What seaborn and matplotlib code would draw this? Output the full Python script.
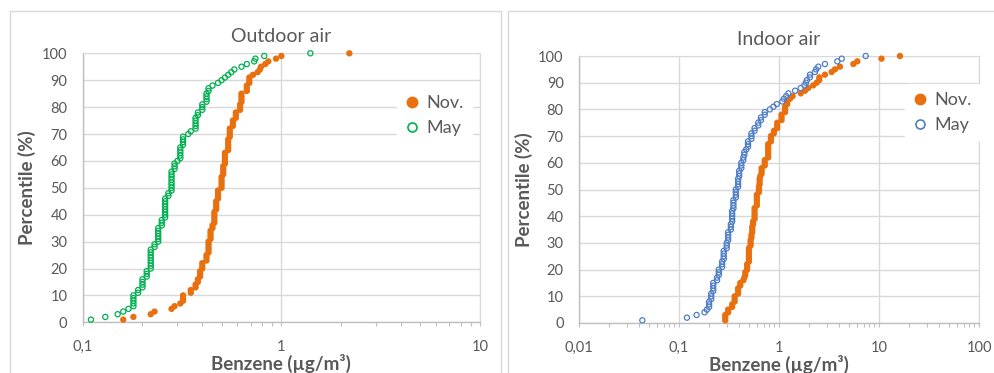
import numpy as np
import pandas as pd
import matplotlib
matplotlib.use("Agg")
import matplotlib.pyplot as plt
from matplotlib.ticker import FixedLocator, FixedFormatter, LogLocator, NullFormatter
from matplotlib.lines import Line2D
from matplotlib.patches import Rectangle
import seaborn as sns

# Benzene concentrations (µg/m³), one value per sample
outdoor_nov = [
    0.16, 0.18, 0.22, 0.23, 0.28, 0.29, 0.31, 0.32, 0.32, 0.32,
    0.35, 0.35, 0.37, 0.37, 0.38, 0.38, 0.39, 0.39, 0.39, 0.40,
    0.40, 0.40, 0.42, 0.42, 0.42, 0.43, 0.43, 0.43, 0.43, 0.43,
    0.44, 0.44, 0.44, 0.44, 0.45, 0.45, 0.46, 0.46, 0.46, 0.46,
    0.46, 0.47, 0.47, 0.47, 0.47, 0.48, 0.48, 0.48, 0.48, 0.50,
    0.50, 0.50, 0.50, 0.50, 0.51, 0.51, 0.51, 0.51, 0.52, 0.52,
    0.52, 0.52, 0.52, 0.54, 0.54, 0.54, 0.54, 0.54, 0.55, 0.55,
    0.55, 0.55, 0.57, 0.57, 0.57, 0.59, 0.59, 0.59, 0.62, 0.62,
    0.62, 0.63, 0.63, 0.63, 0.63, 0.67, 0.67, 0.67, 0.69, 0.69,
    0.69, 0.72, 0.76, 0.78, 0.79, 0.83, 0.86, 0.94, 1.00, 2.20,
]
outdoor_may = [
    0.11, 0.13, 0.15, 0.16, 0.17, 0.18, 0.18, 0.18, 0.18, 0.18,
    0.19, 0.19, 0.20, 0.20, 0.20, 0.20, 0.21, 0.21, 0.21, 0.22,
    0.22, 0.22, 0.22, 0.22, 0.22, 0.22, 0.22, 0.23, 0.23, 0.24,
    0.24, 0.24, 0.24, 0.24, 0.24, 0.25, 0.25, 0.25, 0.26, 0.26,
    0.26, 0.26, 0.26, 0.26, 0.26, 0.26, 0.27, 0.27, 0.28, 0.28,
    0.28, 0.28, 0.28, 0.28, 0.28, 0.28, 0.29, 0.29, 0.29, 0.30,
    0.31, 0.31, 0.31, 0.31, 0.31, 0.32, 0.32, 0.32, 0.32, 0.34,
    0.35, 0.37, 0.37, 0.37, 0.37, 0.37, 0.38, 0.38, 0.40, 0.40,
    0.40, 0.42, 0.42, 0.42, 0.42, 0.43, 0.43, 0.45, 0.48, 0.50,
    0.52, 0.54, 0.56, 0.58, 0.63, 0.67, 0.73, 0.74, 0.82, 1.40,
]
indoor_nov = [
    0.29, 0.29, 0.29, 0.31, 0.31, 0.34, 0.34, 0.36, 0.36, 0.36,
    0.39, 0.39, 0.39, 0.41, 0.41, 0.44, 0.45, 0.46, 0.46, 0.48,
    0.48, 0.48, 0.50, 0.50, 0.50, 0.50, 0.50, 0.50, 0.52, 0.52,
    0.52, 0.53, 0.53, 0.54, 0.54, 0.54, 0.55, 0.55, 0.57, 0.57,
    0.57, 0.57, 0.57, 0.60, 0.60, 0.60, 0.60, 0.60, 0.63, 0.63,
    0.63, 0.64, 0.64, 0.64, 0.65, 0.67, 0.67, 0.67, 0.72, 0.72,
    0.72, 0.78, 0.78, 0.78, 0.78, 0.78, 0.78, 0.83, 0.83, 0.83,
    0.89, 0.89, 0.96, 0.96, 0.96, 1.06, 1.06, 1.06, 1.15, 1.15,
    1.15, 1.21, 1.21, 1.29, 1.37, 1.65, 1.82, 1.96, 2.20, 2.38,
    2.53, 2.53, 2.88, 3.36, 3.63, 4.07, 5.54, 6.07, 10.6, 16.2,
]
indoor_may = [
    0.043, 0.12, 0.15, 0.18, 0.19, 0.20, 0.20, 0.20, 0.21, 0.21,
    0.21, 0.22, 0.22, 0.22, 0.22, 0.24, 0.24, 0.25, 0.25, 0.25,
    0.27, 0.27, 0.27, 0.28, 0.28, 0.28, 0.28, 0.30, 0.30, 0.30,
    0.31, 0.31, 0.31, 0.31, 0.33, 0.33, 0.33, 0.34, 0.34, 0.34,
    0.34, 0.34, 0.35, 0.35, 0.35, 0.35, 0.37, 0.37, 0.37, 0.37,
    0.39, 0.39, 0.39, 0.39, 0.40, 0.40, 0.40, 0.42, 0.42, 0.42,
    0.44, 0.44, 0.45, 0.45, 0.47, 0.49, 0.49, 0.49, 0.53, 0.53,
    0.53, 0.57, 0.57, 0.62, 0.62, 0.66, 0.66, 0.72, 0.72, 0.81,
    0.88, 0.95, 1.08, 1.12, 1.18, 1.24, 1.45, 1.65, 1.80, 1.86,
    1.90, 2.04, 2.04, 2.29, 2.35, 2.47, 2.88, 3.83, 4.24, 7.36,
]

months = ["Nov.", "May"]
panel_titles = ["Outdoor air", "Indoor air"]
outdoor_ticks = [0.1, 1, 10]
outdoor_tick_labels = ["0,1", "1", "10"]
indoor_ticks = [0.01, 0.1, 1, 10, 100]
indoor_tick_labels = ["0,01", "0,1", "1", "10", "100"]
percentile_ticks = list(range(0, 101, 10))

NOV_COLOR = "#E8700E"
GREEN = "#00B050"
BLUE = "#4F7EC6"
TEXT = "#595959"
GRID = "#D9D9D9"
AXIS = "#BFBFBF"


def percentile_table(nov, may):
    parts = []
    for month, vals in zip(months, (nov, may)):
        v = np.sort(np.asarray(vals, dtype=float))
        pct = 100.0 * np.arange(1, len(v) + 1) / len(v)
        parts.append(pd.DataFrame({"Benzene": v, "Percentile": pct, "Month": month}))
    return pd.concat(parts, ignore_index=True)


sns.set_style("white")
plt.rcParams["font.family"] = ["Lato", "DejaVu Sans"]

fig = plt.figure(figsize=(9.95, 3.73), dpi=100)
W, H = 995.0, 373.0

# chart-area frames
for x0, x1 in [(10.5, 501.0), (508.0, 1000.0)]:
    fig.patches.append(Rectangle((x0 / W, -0.05), (x1 - x0) / W, (H - 10.5) / H + 0.05,
                                 transform=fig.transFigure, fill=False,
                                 edgecolor="#D9D9D9", linewidth=1.0))

ax_out = fig.add_axes([82.7 / W, (H - 322.3) / H, 397.3 / W, 269.0 / H])
ax_in = fig.add_axes([579.0 / W, (H - 323.0) / H, 400.0 / W, 267.0 / H])

panels = [
    (ax_out, panel_titles[0], percentile_table(outdoor_nov, outdoor_may), GREEN,
     (0.1, 10), outdoor_ticks, outdoor_tick_labels, (0.79, 0.875)),
    (ax_in, panel_titles[1], percentile_table(indoor_nov, indoor_may), BLUE,
     (0.01, 100), indoor_ticks, indoor_tick_labels, (0.815, 0.895)),
]

for ax, title, df, may_color, xlim, ticks, tick_labels, leg_pos in panels:
    ax.set_xscale("log")
    sns.scatterplot(data=df[df["Month"] == "Nov."], x="Benzene", y="Percentile",
                    ax=ax, color=NOV_COLOR, edgecolor="none", s=21,
                    clip_on=False, zorder=3, legend=False)
    sns.scatterplot(data=df[df["Month"] == "May"], x="Benzene", y="Percentile",
                    ax=ax, color="none", edgecolor=may_color, linewidth=0.9, s=14,
                    clip_on=False, zorder=4, legend=False)

    ax.set_xlim(*xlim)
    ax.set_ylim(0, 100)
    ax.xaxis.set_major_locator(FixedLocator(ticks))
    ax.xaxis.set_major_formatter(FixedFormatter(tick_labels))
    ax.xaxis.set_minor_locator(LogLocator(base=10, subs=range(2, 10)))
    ax.xaxis.set_minor_formatter(NullFormatter())
    ax.yaxis.set_major_locator(FixedLocator(percentile_ticks))

    ax.grid(True, which="major", color=GRID, linewidth=1.0)
    ax.set_axisbelow(True)
    for side in ("top", "right"):
        ax.spines[side].set_visible(True)
        ax.spines[side].set_color(GRID)
    for side in ("left", "bottom"):
        ax.spines[side].set_color(AXIS)
        ax.spines[side].set_linewidth(1.0)

    ax.tick_params(axis="x", which="both", direction="out", length=3, width=0.8,
                   color=AXIS, labelsize=10.5, labelcolor=TEXT, pad=10, bottom=True)
    ax.tick_params(axis="y", which="both", length=0, labelsize=10.5,
                   labelcolor=TEXT, pad=11)

    ax.set_xlabel("Benzene (µg/m³)", fontsize=13.5, fontweight="bold",
                  color=TEXT, labelpad=0)
    ax.set_ylabel("Percentile (%)", fontsize=13.5, fontweight="bold",
                  color=TEXT, labelpad=4)
    ax.set_title(title, fontsize=14, color=TEXT, pad=8)

    handles = [
        Line2D([], [], linestyle="none", marker="o", markersize=7.5,
               markerfacecolor=NOV_COLOR, markeredgecolor=NOV_COLOR),
        Line2D([], [], linestyle="none", marker="o", markersize=6.5,
               markerfacecolor="none", markeredgecolor=may_color, markeredgewidth=1.2),
    ]
    leg = ax.legend(handles, months, loc="upper left", bbox_to_anchor=leg_pos,
                    frameon=True, fontsize=13, handlelength=0.8,
                    handletextpad=0.4, labelspacing=0.5, borderpad=0.45,
                    borderaxespad=0)
    leg.get_frame().set_facecolor("white")
    leg.get_frame().set_edgecolor("white")
    leg.get_frame().set_alpha(1.0)
    for t in leg.get_texts():
        t.set_color(TEXT)

fig.savefig("out.png", dpi=100)
